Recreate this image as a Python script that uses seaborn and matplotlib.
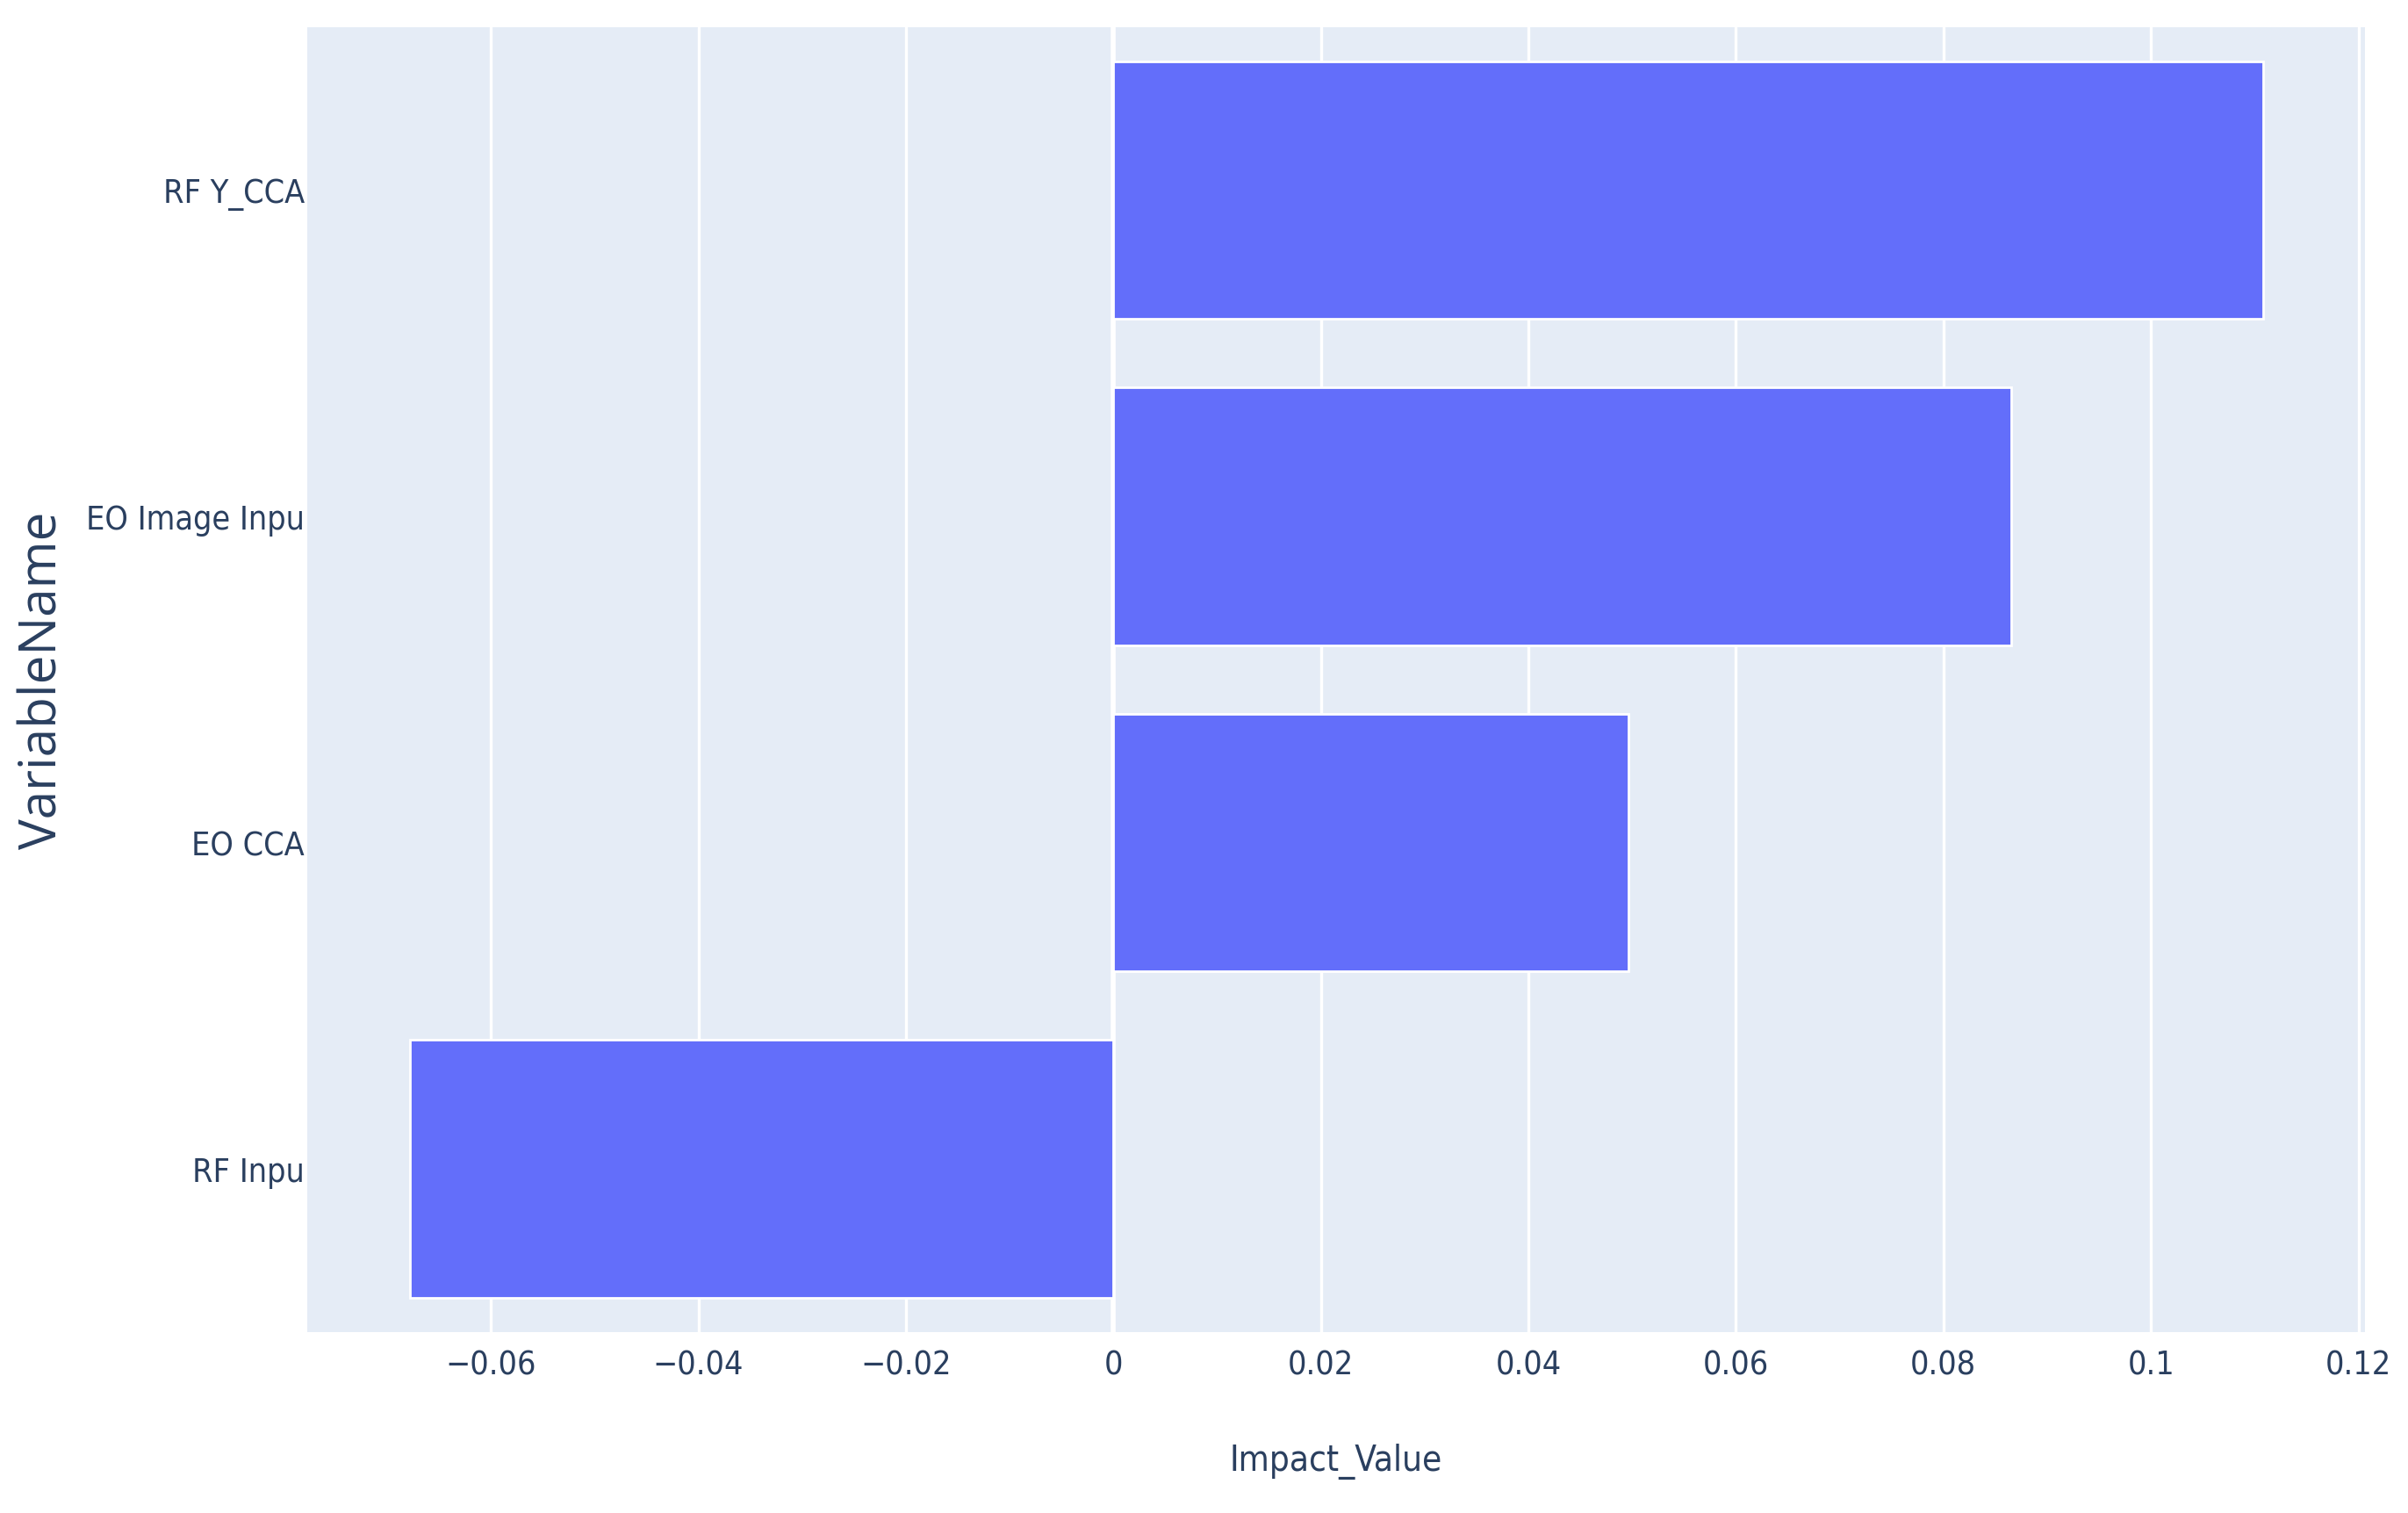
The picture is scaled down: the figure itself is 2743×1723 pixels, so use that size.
import matplotlib
matplotlib.use('Agg')
import matplotlib.pyplot as plt
import seaborn as sns
import pandas as pd

variables = ['RF Y_CCA', 'EO Image Inpu', 'EO CCA', 'RF Inpu']
impact = [0.1108, 0.0865, 0.0496, -0.0678]
xticks = [-0.06, -0.04, -0.02, 0, 0.02, 0.04, 0.06, 0.08, 0.1, 0.12]
xtick_labels = ['\u22120.06', '\u22120.04', '\u22120.02', '0', '0.02', '0.04', '0.06', '0.08', '0.1', '0.12']

df = pd.DataFrame({'VariableName': variables, 'Impact_Value': impact})

sns.set_theme(style='darkgrid', rc={'axes.facecolor': '#E5ECF6', 'grid.color': 'white'})
plt.rcParams['font.family'] = ['Open Sans', 'DejaVu Sans']

fig = plt.figure(figsize=(13.715, 8.62), dpi=200)
ax = fig.add_axes([0.1276, 0.1197, 0.982 - 0.1276, 0.9817 - 0.1197])

sns.barplot(data=df, x='Impact_Value', y='VariableName', orient='h',
            color='#636EFA', saturation=1, width=0.79, ax=ax, zorder=2)

ax.set_xlim(-0.0777, 0.1206)
ax.set_ylim(3.5, -0.5)
ax.set_xticks(xticks)
ax.set_xticklabels(xtick_labels)
ax.grid(axis='y', visible=False)
ax.grid(axis='x', color='white', linewidth=1.2, zorder=0)
ax.axvline(0, color='white', linewidth=2, zorder=1)
ax.set_axisbelow(True)
for s in ax.spines.values():
    s.set_visible(False)

ax.tick_params(axis='x', colors='#2a3f5f', pad=7, length=0)
ax.tick_params(axis='y', colors='#2a3f5f', pad=1, length=0)
for lab in ax.get_xticklabels() + ax.get_yticklabels():
    lab.set_family(['DejaVu Sans'])
    lab.set_stretch('condensed')
    lab.set_fontsize(13.5)

ax.set_xlabel('Impact_Value', fontsize=14.5, color='#2a3f5f',
              family=['DejaVu Sans'], stretch='condensed')
ax.set_ylabel('VariableName', fontsize=21, color='#2a3f5f')
ax.xaxis.set_label_coords(0.5, -0.085)
ax.yaxis.set_label_coords(-0.116, 0.5)

fig.savefig('out.png', dpi=200, facecolor='white')
